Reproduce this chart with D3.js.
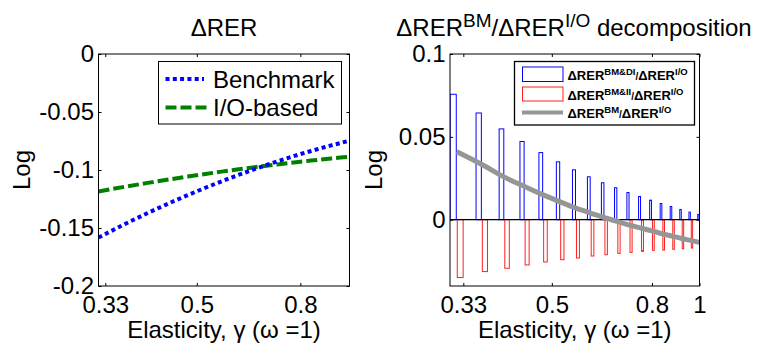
<!DOCTYPE html>
<html>
<head>
<meta charset="utf-8">
<script src="https://cdn.jsdelivr.net/npm/d3@7"></script>
<style>
  body { margin: 0; background: #fff; }
  text { font-family: "Liberation Sans", Arial, sans-serif; fill: #000; }
</style>
</head>
<body>
<svg width="759" height="344"></svg>
<script>
// elasticity grid (gamma), shared by both panels
var gammas = [0.32, 0.36, 0.40, 0.44, 0.48, 0.52, 0.56, 0.60, 0.64, 0.68,
              0.72, 0.76, 0.80, 0.84, 0.88, 0.92, 0.96, 1.00];

// left panel: delta RER
var benchmark = [-0.1582, -0.1468, -0.1371, -0.1288, -0.1216, -0.1153, -0.1097, -0.1047, -0.1003,
                 -0.0963, -0.0926, -0.0893, -0.0863, -0.0836, -0.0811, -0.0788, -0.0767, -0.0747];
var ioBased = [-0.1185, -0.1145, -0.1111, -0.1082, -0.1056, -0.1034, -0.1014, -0.0996, -0.0980,
               -0.0965, -0.0952, -0.0940, -0.0929, -0.0919, -0.0909, -0.0900, -0.0892, -0.0885];

// right panel: decomposition
var bmDI = [0.0757, 0.0644, 0.0548, 0.0472, 0.0405, 0.0349, 0.0301, 0.0259, 0.0223,
            0.0193, 0.0164, 0.0140, 0.0118, 0.0098, 0.0080, 0.0062, 0.0046, 0.0032];
var bmII = [-0.0349, -0.0313, -0.0293, -0.0273, -0.0255, -0.0241, -0.0231, -0.0219, -0.0211,
            -0.0203, -0.0197, -0.0191, -0.0185, -0.0183, -0.0179, -0.0175, -0.0171, -0.0169];
var bmTotal = [0.0410, 0.0333, 0.0257, 0.0200, 0.0150, 0.0108, 0.0070, 0.0040, 0.0012,
               -0.0010, -0.0033, -0.0051, -0.0067, -0.0085, -0.0099, -0.0113, -0.0125, -0.0137];

var xTicksL = [0.33, 0.5, 0.8];
var xTicksR = [0.33, 0.5, 0.8, 1];
var yTicksL = [-0.2, -0.15, -0.1, -0.05, 0];
var yTicksR = [0, 0.05, 0.1];

var svg = d3.select('svg');
var FS = 24;

var xL = d3.scaleLog().domain([0.32, 1]).range([98.5, 349.5]);
var yL = d3.scaleLinear().domain([-0.2, 0]).range([286, 54]);
var xR = d3.scaleLog().domain([0.31, 1]).range([450, 699.5]);
var yR = d3.scaleLinear().domain([-0.04, 0.1]).range([286, 54]);

function yFmt(d) { return d === 0 ? '0' : String(d); }

function frame(x, y, xt, yt, labelX) {
    var x0 = x.range()[0], x1 = x.range()[1];
    var y0 = y.range()[1], y1 = y.range()[0];

    var g = svg.append('g');

    g.append('g')
        .attr('transform', 'translate(0,' + y1 + ')')
        .call(d3.axisBottom(x).tickValues(xt).tickFormat(d3.format('')).tickSize(-3).tickSizeOuter(0).tickPadding(10));
    g.append('g')
        .attr('transform', 'translate(0,' + y0 + ')')
        .call(d3.axisTop(x).tickValues(xt).tickFormat('').tickSize(-3).tickSizeOuter(0));
    g.append('g')
        .attr('transform', 'translate(' + x0 + ',0)')
        .call(d3.axisLeft(y).tickValues(yt).tickFormat(yFmt).tickSize(-3).tickSizeOuter(0).tickPadding(4.5));
    g.append('g')
        .attr('transform', 'translate(' + x1 + ',0)')
        .call(d3.axisRight(y).tickValues(yt).tickFormat('').tickSize(-3).tickSizeOuter(0));

    g.selectAll('.domain').remove();
    g.selectAll('.tick line').attr('stroke', '#000');
    g.selectAll('.tick text')
        .attr('font-size', FS)
        .attr('font-family', '"Liberation Sans", Arial, sans-serif');

    g.append('rect')
        .attr('x', x0)
        .attr('y', y0)
        .attr('width', x1 - x0)
        .attr('height', y1 - y0)
        .style('fill', 'none')
        .style('stroke', '#000')
        .style('stroke-width', 1);

    svg.append('text')
        .attr('x', (x0 + x1) / 2)
        .attr('y', 338)
        .attr('text-anchor', 'middle')
        .attr('font-size', FS)
        .text('Elasticity, \u03b3 (\u03c9 =1)');

    svg.append('text')
        .attr('transform', 'translate(' + labelX + ',' + ((y0 + y1) / 2) + ') rotate(-90)')
        .attr('text-anchor', 'middle')
        .attr('font-size', FS)
        .text('Log');
}

// ---------- left panel ----------
svg.append('text')
    .attr('x', 224)
    .attr('y', 36)
    .attr('text-anchor', 'middle')
    .attr('font-size', FS)
    .text('\u0394RER');

var lineL = d3.line()
    .x(function(d) { return xL(d[0]); })
    .y(function(d) { return yL(d[1]); });

svg.append('path')
    .datum(d3.zip(gammas, ioBased))
    .attr('d', lineL)
    .style('fill', 'none')
    .style('stroke', '#008000')
    .style('stroke-width', 4)
    .style('stroke-dasharray', '11,4');

svg.append('path')
    .datum(d3.zip(gammas, benchmark))
    .attr('d', lineL)
    .style('fill', 'none')
    .style('stroke', '#0000ff')
    .style('stroke-width', 4)
    .style('stroke-dasharray', '4,3.3');

frame(xL, yL, xTicksL, yTicksL, 30);

// left legend
svg.append('rect')
    .attr('x', 158.5).attr('y', 61.5)
    .attr('width', 183).attr('height', 62.5)
    .style('fill', '#fff')
    .style('stroke', '#000')
    .style('stroke-width', 1);
svg.append('line')
    .attr('x1', 165.5).attr('x2', 204).attr('y1', 79).attr('y2', 79)
    .style('stroke', '#0000ff').style('stroke-width', 4).style('stroke-dasharray', '4,3.3');
svg.append('line')
    .attr('x1', 165.5).attr('x2', 207).attr('y1', 107.5).attr('y2', 107.5)
    .style('stroke', '#008000').style('stroke-width', 4).style('stroke-dasharray', '11,4');
svg.append('text').attr('x', 213).attr('y', 87.5).attr('font-size', FS).text('Benchmark');
svg.append('text').attr('x', 213).attr('y', 116).attr('font-size', FS).text('I/O-based');

// ---------- right panel ----------
var title = svg.append('text')
    .attr('x', 574)
    .attr('y', 36)
    .attr('text-anchor', 'middle')
    .attr('font-size', FS);
title.append('tspan').text('\u0394RER');
title.append('tspan').attr('dy', -9).attr('font-size', 19).text('BM');
title.append('tspan').attr('dy', 9).text('/\u0394RER');
title.append('tspan').attr('dy', -9).attr('font-size', 19).text('I/O');
title.append('tspan').attr('dy', 9).text(' decomposition');

svg.append('clipPath').attr('id', 'clipR')
    .append('rect')
    .attr('x', 450).attr('y', 54)
    .attr('width', 249.5).attr('height', 232);

var plotR = svg.append('g').attr('clip-path', 'url(#clipR)');
var bw = 0.0105;

plotR.selectAll('.di')
    .data(d3.zip(gammas, bmDI))
    .enter().append('rect')
    .attr('class', 'di')
    .attr('x', function(d) { return xR(d[0] - bw) + 0.5; })
    .attr('width', function(d) { return xR(d[0]) - xR(d[0] - bw) - 1; })
    .attr('y', function(d) { return yR(d[1]); })
    .attr('height', function(d) { return yR(0) - yR(d[1]); })
    .style('fill', 'none')
    .style('stroke', '#0000ff')
    .style('stroke-width', 1);

plotR.selectAll('.ii')
    .data(d3.zip(gammas, bmII))
    .enter().append('rect')
    .attr('class', 'ii')
    .attr('x', function(d) { return xR(d[0]) + 0.5; })
    .attr('width', function(d) { return xR(d[0] + bw) - xR(d[0]) - 1; })
    .attr('y', yR(0))
    .attr('height', function(d) { return yR(d[1]) - yR(0); })
    .style('fill', 'none')
    .style('stroke', '#ff2020')
    .style('stroke-width', 1);

plotR.append('line')
    .attr('x1', 450).attr('x2', 700)
    .attr('y1', yR(0)).attr('y2', yR(0))
    .style('stroke', '#000')
    .style('stroke-width', 1.2);

plotR.append('path')
    .datum(d3.zip(gammas, bmTotal))
    .attr('d', d3.line().curve(d3.curveMonotoneX)
        .x(function(d) { return xR(d[0]); })
        .y(function(d) { return yR(d[1]); }))
    .style('fill', 'none')
    .style('stroke', '#969696')
    .style('stroke-width', 5);

frame(xR, yR, xTicksR, yTicksR, 382);

// right legend
svg.append('rect')
    .attr('x', 514.5).attr('y', 61.5)
    .attr('width', 180).attr('height', 63.5)
    .style('fill', '#fff')
    .style('stroke', '#000')
    .style('stroke-width', 1.3);
svg.append('rect')
    .attr('x', 522.5).attr('y', 67)
    .attr('width', 40.5).attr('height', 14.5)
    .style('fill', 'none').style('stroke', '#0000ff');
svg.append('rect')
    .attr('x', 522.5).attr('y', 87)
    .attr('width', 40.5).attr('height', 14)
    .style('fill', 'none').style('stroke', '#ff2020');
svg.append('line')
    .attr('x1', 522).attr('x2', 563).attr('y1', 112.5).attr('y2', 112.5)
    .style('stroke', '#969696').style('stroke-width', 4);

var legR = [['BM&DI', 80], ['BM&II', 100], ['BM', 118]];
legR.forEach(function(r) {
    var t = svg.append('text')
        .attr('x', 567.5)
        .attr('y', r[1])
        .attr('font-size', 13)
        .attr('font-weight', 'bold');
    t.append('tspan').text('\u0394RER');
    t.append('tspan').attr('dy', -5).attr('font-size', 9.5).text(r[0]);
    t.append('tspan').attr('dy', 5).attr('font-size', 10).text('/');
    t.append('tspan').attr('font-size', 13).text('\u0394RER');
    t.append('tspan').attr('dy', -5).attr('font-size', 9.5).text('I/O');
});
</script>
</body>
</html>
